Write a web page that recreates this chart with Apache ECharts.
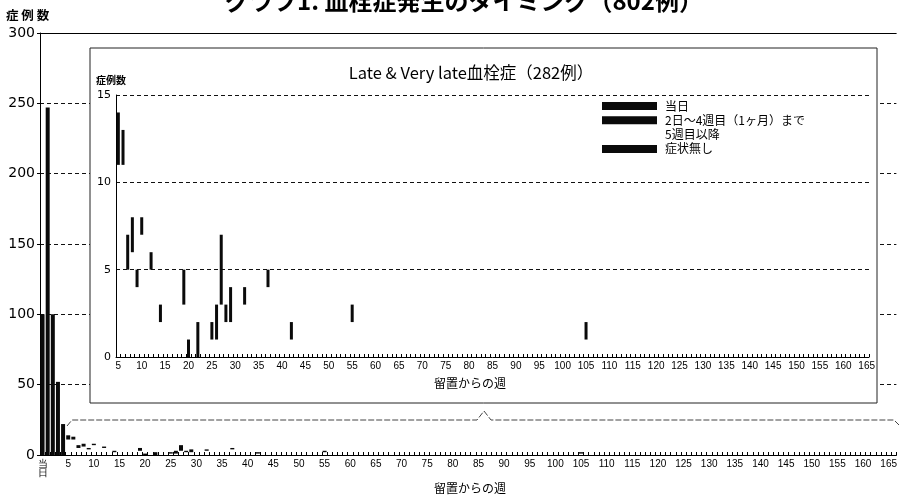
<!DOCTYPE html>
<html><head><meta charset="utf-8">
<script src="https://cdn.jsdelivr.net/npm/echarts@6/dist/echarts.min.js"></script>
<style>html,body{margin:0;padding:0;background:#fff}#c{width:900px;height:497px}</style>
</head><body><div id="c"></div>
<script>
// ---- data ----
const seriesNames = ['当日', '2日～4週目（1ヶ月）まで', '5週目以降', '症状無し'];
const earlyLabels = ['当日', '1', '2', '3', '4'];
const earlyCounts = [100, 247, 100, 52, 22];           // index 0 = 当日, 1..4 = weeks 1-4
const lateWeeks = [5, 6, 7, 8, 9, 10, 12, 14, 19, 20, 22, 25, 26, 27, 28, 29, 32, 37, 42, 55, 105];
const lateBase  = [11, 11, 5, 6, 4, 7, 5, 2, 3, 0, 0, 1, 1, 3, 2, 2, 3, 4, 1, 2, 1];   // 5週目以降 (white)
const lateTop   = [3, 2, 2, 2, 1, 1, 1, 1, 2, 1, 2, 1, 2, 4, 1, 2, 1, 1, 1, 1, 1];     // 症状無し (black)
const mainYTicks = [0, 50, 100, 150, 200, 250, 300];
const insetYTicks = [0, 5, 10, 15];
const mainLastWeek = 166;
const insetFirstWeek = 5, insetLastWeek = 165;

// ---- build category tables ----
const mainCats = earlyLabels.slice();
for (let w = earlyLabels.length; w <= mainLastWeek; w++) mainCats.push(String(w));
const insetCats = [];
for (let w = insetFirstWeek; w <= insetLastWeek; w++) insetCats.push(String(w));

const blank = n => new Array(n).fill('-');
const mToday = blank(mainCats.length), mEarly = blank(mainCats.length),
      mBase = blank(mainCats.length), mTop = blank(mainCats.length);
mToday[0] = earlyCounts[0];
for (let i = 1; i < earlyCounts.length; i++) mEarly[i] = earlyCounts[i];
const iBase = blank(insetCats.length), iTop = blank(insetCats.length);
lateWeeks.forEach((w, k) => {
  mBase[w] = lateBase[k]; mTop[w] = lateTop[k];
  iBase[w - insetFirstWeek] = lateBase[k]; iTop[w - insetFirstWeek] = lateTop[k];
});

const JP = '"Noto Sans CJK JP", "Noto Sans", sans-serif';
const NUM = '"DejaVu Sans", sans-serif';
const NARROW = '"Liberation Sans", sans-serif';
const BLACK = '#0a0a0a';
const CLEAR = 'rgba(255,255,255,0)';

const chart = echarts.init(document.getElementById('c'), null, {renderer: 'canvas'});
chart.setOption({
  animation: false,
  backgroundColor: '#fff',
  legend: {
    zlevel: 1, z: 10,
    data: seriesNames,
    orient: 'vertical', left: 597, top: 94,
    itemWidth: 55, itemHeight: 8, itemGap: 0.3,
    icon: 'rect',
    selectedMode: false,
    textStyle: {fontFamily: JP, fontSize: 12, color: '#000', lineHeight: 14, padding: [0, 0, 0, 3]}
  },
  graphic: [
    {type: 'rect', zlevel: 1, z: 1, shape: {x: 90, y: 48, width: 787, height: 355},
     style: {fill: '#fff', stroke: '#222', lineWidth: 1}},
    {type: 'polyline', zlevel: 1, z: 1,
     shape: {points: [[67, 426], [72, 420], [477, 420], [484, 411], [491, 420], [894, 420], [899, 425]]},
     style: {fill: null, stroke: '#444', lineWidth: 1, lineDash: [6, 2]}},
    {type: 'text', zlevel: 1, z: 10, x: 464, y: 1,
     style: {text: 'グラフ1. 血栓症発生のタイミング（802例）', fontFamily: JP, fontSize: 24, fontWeight: 'bold',
             fill: '#000', textAlign: 'center', textVerticalAlign: 'middle'}},
    {type: 'text', zlevel: 1, z: 10, x: 6, y: 15,
     style: {text: '症 例 数', fontFamily: JP, fontSize: 12.5, fontWeight: 'bold', fill: '#000',
             textAlign: 'left', textVerticalAlign: 'middle'}},
    {type: 'text', zlevel: 1, z: 10, x: 470, y: 488,
     style: {text: '留置からの週', fontFamily: JP, fontSize: 12, fill: '#000',
             textAlign: 'center', textVerticalAlign: 'middle'}},
    {type: 'text', zlevel: 1, z: 10, x: 471, y: 73,
     style: {text: 'Late & Very late血栓症（282例）', fontFamily: JP, fontSize: 16.5, fill: '#000',
             textAlign: 'center', textVerticalAlign: 'middle'}},
    {type: 'text', zlevel: 1, z: 10, x: 96, y: 80,
     style: {text: '症例数', fontFamily: JP, fontSize: 10, fontWeight: 'bold', fill: '#000',
             textAlign: 'left', textVerticalAlign: 'middle'}},
    {type: 'text', zlevel: 1, z: 10, x: 470, y: 383,
     style: {text: '留置からの週', fontFamily: JP, fontSize: 12, fill: '#000',
             textAlign: 'center', textVerticalAlign: 'middle'}}
  ],
  grid: [
    {left: 40, right: -3, top: 33, bottom: 42},
    {left: 116, right: 31, top: 95, bottom: 140}
  ],
  xAxis: [
    {type: 'category', gridIndex: 0, data: mainCats,
     axisLine: {lineStyle: {color: '#000', width: 1}},
     axisTick: {show: true, inside: true, length: 3, interval: 0, lineStyle: {color: '#000'}},
     axisLabel: {interval: (i) => i === 0 || i % 5 === 0, margin: 5, fontFamily: NARROW, fontSize: 10, color: '#000',
                 lineHeight: 9, formatter: v => v === '当日' ? '当\n日' : v},
     splitLine: {show: false}},
    {type: 'category', gridIndex: 1, data: insetCats, zlevel: 1, z: 5,
     axisLine: {lineStyle: {color: '#000', width: 1}},
     axisTick: {show: true, inside: true, length: 3, interval: 0, lineStyle: {color: '#000'}},
     axisLabel: {interval: (i, v) => Number(v) % 5 === 0, margin: 4, fontFamily: NARROW, fontSize: 10, color: '#000'},
     splitLine: {show: false}}
  ],
  yAxis: [
    {type: 'value', gridIndex: 0, min: mainYTicks[0], max: mainYTicks[mainYTicks.length - 1], interval: 50,
     axisLine: {show: true, lineStyle: {color: '#000', width: 1}},
     axisTick: {show: true, length: 3, lineStyle: {color: '#000'}},
     axisLabel: {margin: 5, fontFamily: NUM, fontSize: 14, color: '#000'},
     splitLine: {show: true, lineStyle: {color: '#111', type: [4, 3], width: 1.2}}},
    {type: 'value', gridIndex: 1, min: insetYTicks[0], max: insetYTicks[insetYTicks.length - 1], interval: 5,
     zlevel: 1, z: 5,
     axisLine: {show: true, lineStyle: {color: '#000', width: 1}},
     axisTick: {show: false},
     axisLabel: {margin: 5, fontFamily: NUM, fontSize: 11, color: '#000'},
     splitLine: {show: true, lineStyle: {color: '#111', type: [4, 3], width: 1.2}}}
  ],
  series: [
    {name: seriesNames[0], type: 'bar', xAxisIndex: 0, yAxisIndex: 0, stack: 'm', barWidth: 4,
     itemStyle: {color: BLACK}, data: mToday,
     markLine: {silent: true, symbol: 'none', label: {show: false},
                lineStyle: {color: '#000', type: 'solid', width: 1.2}, data: [{yAxis: 300}]}},
    {name: seriesNames[1], type: 'bar', xAxisIndex: 0, yAxisIndex: 0, stack: 'm', barWidth: 4,
     itemStyle: {color: BLACK}, data: mEarly},
    {name: seriesNames[2], type: 'bar', xAxisIndex: 0, yAxisIndex: 0, stack: 'm', barWidth: 4,
     itemStyle: {color: CLEAR}, data: mBase},
    {name: seriesNames[3], type: 'bar', xAxisIndex: 0, yAxisIndex: 0, stack: 'm', barWidth: 4,
     itemStyle: {color: BLACK}, data: mTop},
    {name: seriesNames[2], type: 'bar', xAxisIndex: 1, yAxisIndex: 1, stack: 'i', barWidth: 3,
     zlevel: 1, z: 6, itemStyle: {color: CLEAR}, data: iBase},
    {name: seriesNames[3], type: 'bar', xAxisIndex: 1, yAxisIndex: 1, stack: 'i', barWidth: 3,
     zlevel: 1, z: 6, itemStyle: {color: BLACK}, data: iTop}
  ]
});
</script></body></html>
